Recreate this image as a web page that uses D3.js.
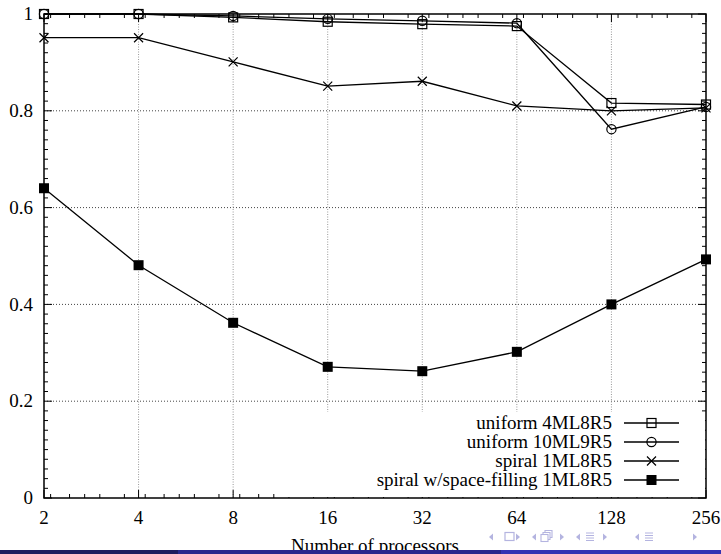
<!DOCTYPE html>
<html>
<head>
<meta charset="utf-8">
<script src="https://cdn.jsdelivr.net/npm/d3@7"></script>
<style>
  html, body { margin: 0; padding: 0; background: #fff; }
  svg { display: block; }
</style>
</head>
<body>
<svg id="chart" width="721" height="554"></svg>
<script>
// ---- data ----
const processors = [2, 4, 8, 16, 32, 64, 128, 256];
const uniform4ML8R5 = [1.0, 1.0, 0.993, 0.984, 0.979, 0.975, 0.816, 0.813];
const uniform10ML9R5 = [1.0, 1.0, 0.996, 0.990, 0.986, 0.981, 0.762, 0.808];
const spiral1ML8R5 = [0.951, 0.951, 0.901, 0.851, 0.861, 0.810, 0.800, 0.806];
const spiralSF1ML8R5 = [0.640, 0.481, 0.362, 0.271, 0.262, 0.302, 0.400, 0.493];
const seriesNames = ["uniform 4ML8R5", "uniform 10ML9R5", "spiral 1ML8R5", "spiral w/space-filling 1ML8R5"];
const seriesMarkers = ["openSquare", "openCircle", "cross", "filledSquare"];
const yTickValues = [0, 0.2, 0.4, 0.6, 0.8, 1];
const yTickLabels = ["0", "0.2", "0.4", "0.6", "0.8", "1"];
const xTickLabels = ["2", "4", "8", "16", "32", "64", "128", "256"];
const xMinorFractions = [0.07, 0.27, 0.43, 0.59, 0.85];
const xLabel = "Number of processors";

const seriesValues = [uniform4ML8R5, uniform10ML9R5, spiral1ML8R5, spiralSF1ML8R5];

// ---- layout ----
const FONT = "'Liberation Serif', 'Times New Roman', Times, 'DejaVu Serif', serif";
const svg = d3.select("#chart").attr("font-family", FONT);
const L = 44, R = 706, T = 14, B = 498;
const x = d3.scaleLog().base(2).domain([2, 256]).range([L, R]);
const y = d3.scaleLinear().domain([0, 1]).range([B, T]);

// grid
const g = svg.append("g");
g.selectAll("line.hgrid").data(yTickValues.filter(v => v > 0 && v < 1)).join("line")
  .attr("x1", L).attr("x2", R).attr("y1", d => y(d)).attr("y2", d => y(d))
  .attr("stroke", "#444").attr("stroke-width", 1).attr("stroke-dasharray", "1,2");
g.selectAll("line.vgrid").data(processors.slice(1, -1)).join("line")
  .attr("x1", d => x(d)).attr("x2", d => x(d)).attr("y1", T).attr("y2", B)
  .attr("stroke", "#999").attr("stroke-width", 1).attr("stroke-dasharray", "1,1.5");

// minor ticks
const yMinor = d3.range(0, 1.0001, 0.02).filter(v => Math.abs(v * 5 - Math.round(v * 5)) > 1e-6);
const xMinor = [];
for (let k = 1; k < 8; k++) xMinorFractions.forEach(f => xMinor.push(Math.pow(2, k + f)));

const ticks = svg.append("g").attr("stroke", "#000").attr("stroke-width", 1);
const mt = 4, MT = 8;
yMinor.forEach(v => {
  ticks.append("line").attr("x1", L).attr("x2", L + mt).attr("y1", y(v)).attr("y2", y(v));
  ticks.append("line").attr("x1", R).attr("x2", R - mt).attr("y1", y(v)).attr("y2", y(v));
});
yTickValues.forEach(v => {
  ticks.append("line").attr("x1", L).attr("x2", L + MT).attr("y1", y(v)).attr("y2", y(v));
  ticks.append("line").attr("x1", R).attr("x2", R - MT).attr("y1", y(v)).attr("y2", y(v));
});
xMinor.forEach(v => {
  ticks.append("line").attr("x1", x(v)).attr("x2", x(v)).attr("y1", B).attr("y2", B - mt);
  ticks.append("line").attr("x1", x(v)).attr("x2", x(v)).attr("y1", T).attr("y2", T + mt);
});
processors.forEach(v => {
  ticks.append("line").attr("x1", x(v)).attr("x2", x(v)).attr("y1", B).attr("y2", B - MT);
  ticks.append("line").attr("x1", x(v)).attr("x2", x(v)).attr("y1", T).attr("y2", T + MT);
});

// legend background (opaque key box)
const legendRightText = 612, legendTop = 423, legendStep = 19;
svg.append("rect").attr("x", 281).attr("y", 412).attr("width", R - 281 - 1).attr("height", B - 412 - 1)
  .attr("fill", "#fff");

// frame
svg.append("rect").attr("x", L).attr("y", T).attr("width", R - L).attr("height", B - T)
  .attr("fill", "none").attr("stroke", "#000").attr("stroke-width", 1.5);

// tick labels
svg.selectAll("text.ylab").data(yTickValues).join("text")
  .attr("x", 33).attr("y", d => y(d)).attr("dy", "0.33em")
  .attr("text-anchor", "end").attr("font-size", 19).attr("fill", "#000")
  .text((d, i) => yTickLabels[i]);
svg.selectAll("text.xlab").data(processors).join("text")
  .attr("x", d => x(d)).attr("y", 524)
  .attr("text-anchor", "middle").attr("font-size", 19).attr("fill", "#000")
  .text((d, i) => xTickLabels[i]);

// markers
function drawMarker(sel, type) {
  if (type === "openSquare") {
    sel.append("rect").attr("x", -4.5).attr("y", -4.5).attr("width", 9).attr("height", 9)
      .attr("fill", "none").attr("stroke", "#000").attr("stroke-width", 1.2);
  } else if (type === "openCircle") {
    sel.append("circle").attr("r", 4.6).attr("fill", "none").attr("stroke", "#000").attr("stroke-width", 1.2);
  } else if (type === "cross") {
    sel.append("path").attr("d", "M-4.5,-4.5L4.5,4.5M-4.5,4.5L4.5,-4.5")
      .attr("stroke", "#000").attr("stroke-width", 1.2).attr("fill", "none");
  } else {
    sel.append("rect").attr("x", -5).attr("y", -5).attr("width", 10).attr("height", 10).attr("fill", "#000");
  }
}

const line = d3.line().x(d => x(d[0])).y(d => y(d[1]));
seriesValues.forEach((vals, si) => {
  const pts = processors.map((p, i) => [p, vals[i]]);
  svg.append("path").datum(pts).attr("d", line)
    .attr("fill", "none").attr("stroke", "#000").attr("stroke-width", 1.3);
});
seriesValues.forEach((vals, si) => {
  const pts = processors.map((p, i) => [p, vals[i]]);
  svg.selectAll(null).data(pts).join("g")
    .attr("transform", d => `translate(${x(d[0])},${y(d[1])})`)
    .each(function () { drawMarker(d3.select(this), seriesMarkers[si]); });
});

// legend
seriesNames.forEach((name, i) => {
  const yy = legendTop + i * legendStep;
  svg.append("text").attr("x", legendRightText).attr("y", yy).attr("dy", "0.33em")
    .attr("text-anchor", "end").attr("font-size", 19).attr("fill", "#000").text(name);
  svg.append("line").attr("x1", 624).attr("x2", 679).attr("y1", yy).attr("y2", yy)
    .attr("stroke", "#000").attr("stroke-width", 1.3);
  const mg = svg.append("g").attr("transform", `translate(651.5,${yy})`);
  drawMarker(mg, seriesMarkers[i]);
});

// axis title (partly covered by the footline, as in the slide)
svg.append("text").attr("x", (L + R) / 2).attr("y", 552).attr("text-anchor", "middle")
  .attr("font-size", 19).attr("fill", "#000").text(xLabel);

// beamer footline
svg.append("rect").attr("x", 0).attr("y", 550).attr("width", 178).attr("height", 4).attr("fill", "#1c1c5e");
svg.append("rect").attr("x", 178).attr("y", 550).attr("width", 323).attr("height", 4).attr("fill", "#28288c");
svg.append("rect").attr("x", 501).attr("y", 550).attr("width", 220).attr("height", 4).attr("fill", "#3333b3");

// navigation symbols
const nav = svg.append("g").attr("fill", "#b4b4e0").attr("stroke", "#b4b4e0");
function triL(cx) { nav.append("path").attr("d", `M${cx + 2},${533.5}L${cx - 2},${537}L${cx + 2},${540.5}Z`).attr("stroke", "none"); }
function triR(cx) { nav.append("path").attr("d", `M${cx - 2},${533.5}L${cx + 2},${537}L${cx - 2},${540.5}Z`).attr("stroke", "none"); }
triL(491); nav.append("rect").attr("x", 505).attr("y", 532.5).attr("width", 9).attr("height", 8).attr("fill", "none").attr("stroke-width", 1.2); triR(518);
triL(534);
nav.append("rect").attr("x", 541).attr("y", 534.5).attr("width", 7).attr("height", 7).attr("fill", "none").attr("stroke-width", 1.1);
nav.append("path").attr("d", "M543,534.5V532.5H550V539.5H548M545,532.5V530.5H552V537.5H550").attr("fill", "none").attr("stroke-width", 1.1);
triR(562);
triL(578);
[533, 535.5, 538, 540.5].forEach(yy => nav.append("line").attr("x1", 586).attr("x2", 594).attr("y1", yy).attr("y2", yy).attr("stroke-width", 1));
triR(605);
triL(637);
[533, 535.5, 538, 540.5].forEach(yy => nav.append("line").attr("x1", 645).attr("x2", 653).attr("y1", yy).attr("y2", yy).attr("stroke-width", 1));
triR(695);
</script>
</body>
</html>
